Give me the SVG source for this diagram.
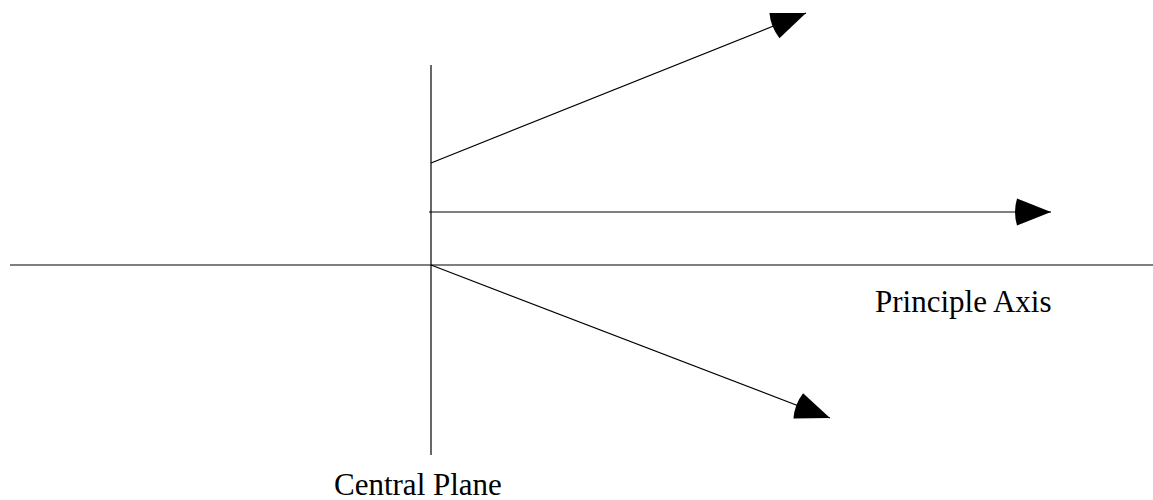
<svg xmlns="http://www.w3.org/2000/svg" width="1153" height="500" viewBox="0 0 1153 500">
  <style>
    .ln { stroke: #000; stroke-width: 1.2; fill: none; }
    .lbl { font-family: "Liberation Serif", "Times New Roman", serif; font-size: 31px; fill: #000; }
  </style>
  <defs>
    <marker id="ah" markerUnits="userSpaceOnUse" markerWidth="40" markerHeight="32" viewBox="-4 -16 40 32" refX="34" refY="0" orient="auto" overflow="visible">
      <path d="M0,-13.5 L34,0 L0,13.5 Q-4,0 0,-13.5 Z" fill="#000"/>
    </marker>
  </defs>
  <g id="axes">
    <line class="ln" x1="10" y1="265" x2="1153" y2="265"/>
    <line class="ln" x1="431" y1="65" x2="431" y2="455"/>
  </g>
  <g id="connectors">
    <line class="ln" x1="431" y1="163" x2="806" y2="13" marker-end="url(#ah)"/>
    <line class="ln" x1="429" y1="212" x2="1051" y2="212" marker-end="url(#ah)"/>
    <line class="ln" x1="431" y1="265" x2="830" y2="418" marker-end="url(#ah)"/>
  </g>
  <g id="principle-axis">
    <text class="lbl" x="875" y="312">Principle Axis</text>
  </g>
  <g id="central-plane">
    <text class="lbl" x="334" y="495">Central Plane</text>
  </g>
</svg>
